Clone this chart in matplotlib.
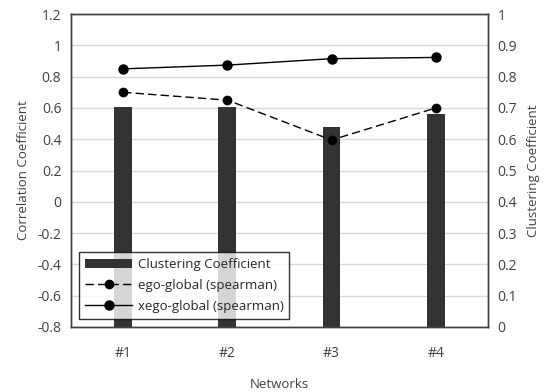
import numpy as np
import matplotlib.pyplot as plt

plt.rcParams['font.family'] = ['Open Sans', 'DejaVu Sans']

networks = ['#1', '#2', '#3', '#4']
clustering = [0.704, 0.704, 0.638, 0.680]
ego_global = [0.70, 0.65, 0.395, 0.60]
xego_global = [0.85, 0.874, 0.915, 0.923]

text_color = '#404040'

def plot_chart():
    fig = plt.figure(figsize=(5.55, 3.92), dpi=100)
    ax = fig.add_axes([0.128, 0.166, 0.751, 0.798])
    ax2 = ax.twinx()

    x = np.arange(len(networks))

    # bars on the right axis, behind the lines
    ax2.bar(x, clustering, width=0.17, color='#333333', label='Clustering Coefficient', zorder=2)
    ax2.set_ylim(0, 1)
    ax2.set_yticks(np.arange(0, 1.01, 0.1))
    ax2.set_yticklabels(['0'] + ['%.1f' % v for v in np.arange(0.1, 0.95, 0.1)] + ['1'])
    ax2.yaxis.grid(True, color='#d9d9d9', linewidth=1, zorder=0)
    ax2.set_axisbelow(True)
    ax2.set_ylabel('Clustering Coefficient', color=text_color, fontsize=9.5, labelpad=7)

    ax.plot(x, ego_global, color='black', linestyle=(0, (6, 3)), linewidth=1,
            marker='o', markersize=6, label='ego-global (spearman)')
    ax.plot(x, xego_global, color='black', linestyle='-', linewidth=1,
            marker='o', markersize=6.5, label='xego-global (spearman)')
    ax.set_ylim(-0.8, 1.2)
    ticks = np.round(np.arange(-0.8, 1.21, 0.2), 1)
    ax.set_yticks(ticks)
    ax.set_yticklabels(['0' if t == 0 else ('1' if t == 1 else '%g' % t) for t in ticks])
    ax.set_xlim(-0.5, len(networks) - 0.5)
    ax.set_xticks(x)
    ax.set_xticklabels(networks)
    ax.set_xlabel('Networks', color=text_color, fontsize=9.5, labelpad=12)
    ax.set_ylabel('Correlation Coefficient', color=text_color, fontsize=9.5, labelpad=5)

    ax.set_zorder(ax2.get_zorder() + 1)
    ax.patch.set_visible(False)

    for a in (ax, ax2):
        a.tick_params(length=0, labelsize=10, colors=text_color, pad=7)
        for s in a.spines.values():
            s.set_color('#404040')
            s.set_linewidth(1)
    ax.tick_params(axis='x', pad=14)

    h1, l1 = ax2.get_legend_handles_labels()
    h2, l2 = ax.get_legend_handles_labels()
    leg = ax.legend(h1 + h2, l1 + l2, loc='lower left', bbox_to_anchor=(0.019, 0.026),
                    fontsize=9.5, frameon=True, fancybox=False, edgecolor='black',
                    borderpad=0.45, labelspacing=0.6, handlelength=3.6, handletextpad=0.4,
                    borderaxespad=0)
    leg.get_frame().set_linewidth(1)
    for t in leg.get_texts():
        t.set_color('#262626')

    fig.savefig('out.png', dpi=100)

def main():
    plot_chart()

if __name__ == "__main__":
    main()
